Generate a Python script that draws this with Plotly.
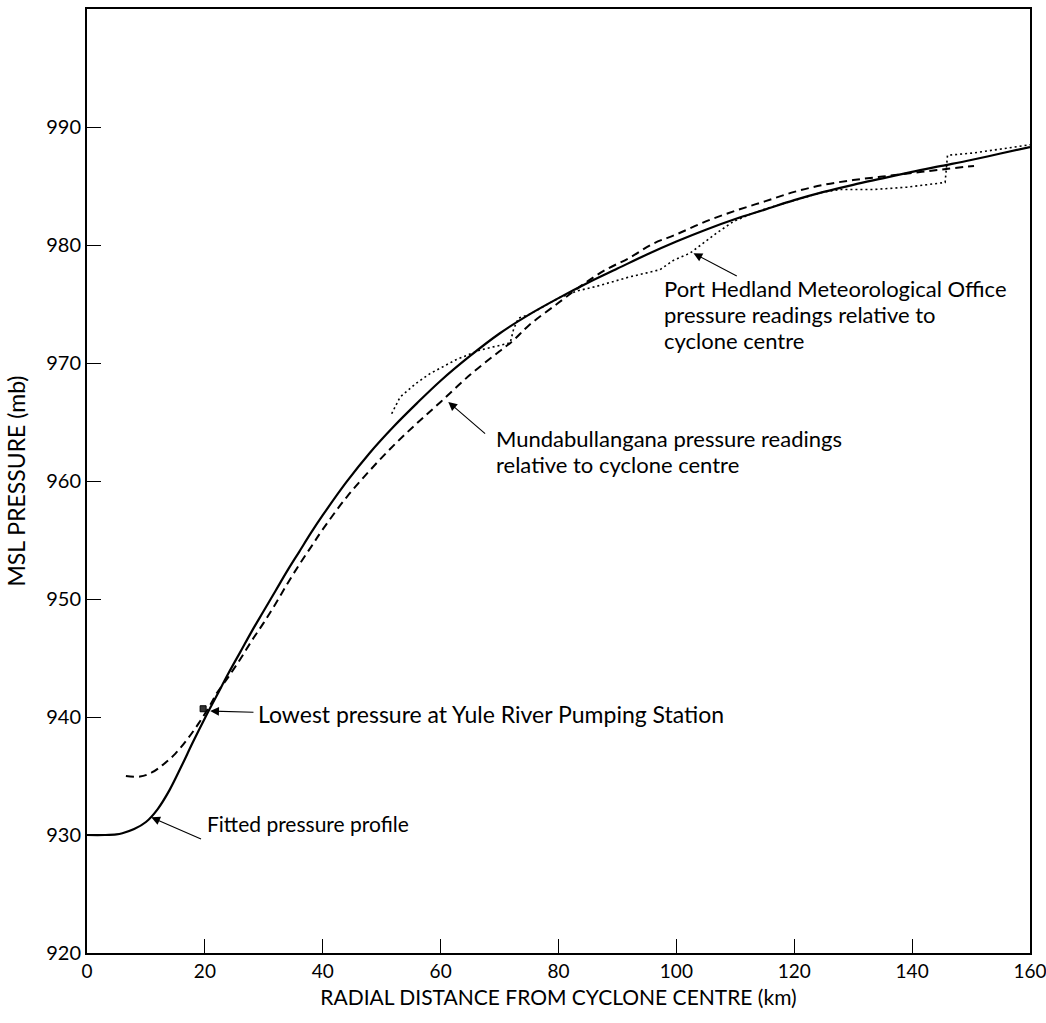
import plotly.graph_objects as go

# ---------------- data ----------------
fitted_x = [0, 3, 5, 6, 8, 10, 12, 14, 16, 18, 20, 22, 24, 26, 28, 30, 32, 34, 36, 38,
            40, 44, 48, 52, 56, 60, 65, 70, 75, 80, 85, 90, 95, 100, 105, 110, 115,
            120, 125, 130, 135, 140, 145, 150, 155, 160]
fitted_y = [930, 930, 930.05, 930.15, 930.5, 931.1, 932.2, 933.8, 935.8, 937.9, 939.9,
            941.8, 943.7, 945.5, 947.3, 949.0, 950.7, 952.4, 954.0, 955.6, 957.1,
            959.9, 962.4, 964.6, 966.6, 968.5, 970.6, 972.5, 974.1, 975.5, 976.8,
            978.0, 979.2, 980.3, 981.3, 982.2, 983.0, 983.8, 984.5, 985.1, 985.65,
            986.2, 986.7, 987.2, 987.75, 988.3]

munda_x = [6.6, 9, 11, 13, 15, 17, 19, 21, 22, 24, 26, 28, 30, 32, 34, 36, 38, 40, 44,
           48, 52, 56, 60, 65, 70, 72.3, 75, 80, 84, 88, 92, 96, 100, 105, 110, 115,
           120, 125, 130, 135, 140, 145, 150.5]
munda_y = [935.0, 934.95, 935.3, 936.0, 936.9, 938.1, 939.5, 941.1, 942.0, 943.4,
           944.9, 946.5, 948.0, 949.6, 951.3, 952.9, 954.4, 955.9, 958.6, 960.9,
           963.0, 964.9, 966.7, 969.0, 971.0, 971.9, 973.2, 975.1, 976.6, 977.9,
           978.9, 980.1, 980.9, 982.0, 982.9, 983.7, 984.5, 985.1, 985.5, 985.8,
           986.1, 986.4, 986.7]

hedland_x = [51.7, 53.1, 55.9, 58.2, 62.7, 66.7, 71.8, 72.4, 73.2, 75, 80, 83.1, 86.5,
             92.1, 97.2, 99.5, 102.3, 106.8, 109.7, 112.5, 116, 120, 125, 127.8,
             133.4, 139.1, 145.6, 146.0, 150.4, 156, 160]
hedland_y = [965.7, 967.1, 968.3, 969.1, 970.3, 971.1, 971.7, 972.9, 973.8, 974.1,
             975.5, 976.1, 976.5, 977.3, 977.9, 978.7, 979.3, 981.0, 982.0, 982.6,
             983.2, 983.8, 984.5, 984.7, 984.7, 984.9, 985.3, 987.6, 987.8, 988.2,
             988.5]

yule_x = [19.7]
yule_y = [940.7]

x_ticks = [0, 20, 40, 60, 80, 100, 120, 140, 160]
y_ticks = [920, 930, 940, 950, 960, 970, 980, 990]

FONT = "Lato"

fig = go.Figure()
fig.add_trace(go.Scatter(x=fitted_x, y=fitted_y, mode="lines", line_shape="spline",
                         line=dict(color="black", width=2.2), showlegend=False))
fig.add_trace(go.Scatter(x=munda_x, y=munda_y, mode="lines", line_shape="spline",
                         line=dict(color="black", width=2, dash="8px,5px"), showlegend=False))
fig.add_trace(go.Scatter(x=hedland_x, y=hedland_y, mode="lines",
                         line=dict(color="black", width=1.6, dash="2px,3px"), showlegend=False))
fig.add_trace(go.Scatter(x=yule_x, y=yule_y, mode="markers",
                         marker=dict(symbol="square", size=6, color="#333",
                                     line=dict(color="black", width=1)), showlegend=False))

# arrows (tip x,y ; tail ax,ay)
arrows = [
    (20.9, 940.5, 28.5, 940.4),
    (10.9, 931.5, 19.6, 929.6),
    (61.3, 966.7, 67.8, 963.9),
    (102.9, 979.3, 110.5, 977.3),
]
for x, y, ax, ay in arrows:
    fig.add_annotation(x=x, y=y, ax=ax, ay=ay, xref="x", yref="y", axref="x", ayref="y",
                       text="", showarrow=True, arrowhead=2, arrowsize=1.6,
                       arrowwidth=1.1, arrowcolor="black")

labels = [
    (28.7, 940.25, "Lowest pressure at Yule River Pumping Station", 23),
    (20.0, 931.0, "Fitted pressure profile", 21),
    (69.0, 963.6, "Mundabullangana pressure readings", 22),
    (69.0, 961.4, "relative to cyclone centre", 22),
    (97.6, 976.3, "Port Hedland Meteorological Office", 22),
    (97.6, 974.1, "pressure readings relative to", 22),
    (97.6, 971.9, "cyclone centre", 22),
]
for x, y, t, s in labels:
    fig.add_annotation(x=x, y=y, xref="x", yref="y", text=t, showarrow=False,
                       xanchor="left", yanchor="middle",
                       font=dict(family=FONT, size=s, color="black"))

fig.update_layout(
    width=1046, height=1023,
    margin=dict(l=87, r=16, t=9, b=70, autoexpand=False),
    paper_bgcolor="white", plot_bgcolor="white",
    font=dict(family=FONT, size=20, color="black"),
)
fig.update_xaxes(range=[0, 160], tickvals=x_ticks, ticks="inside", ticklen=14,
                 tickwidth=1.2, tickcolor="black", showline=True, linecolor="black",
                 linewidth=2, mirror=True, showgrid=False, zeroline=False,
                 automargin=False, ticklabeloverflow="allow",
                 tickfont=dict(family=FONT, size=19),
                 title=dict(text="RADIAL DISTANCE FROM CYCLONE CENTRE (km)",
                            font=dict(family=FONT, size=21), standoff=10))
fig.update_yaxes(range=[920, 1000], tickvals=y_ticks, ticks="inside", ticklen=14,
                 tickwidth=1.2, tickcolor="black", showline=True, linecolor="black",
                 linewidth=2, mirror=True, showgrid=False, zeroline=False,
                 automargin=False,
                 tickfont=dict(family=FONT, size=20),
                 title=dict(text="MSL PRESSURE (mb)",
                            font=dict(family=FONT, size=23), standoff=14))

fig.write_html("out.html", config={"displayModeBar": False},
               post_script="document.body.style.margin='0';document.body.style.overflow='hidden';")
